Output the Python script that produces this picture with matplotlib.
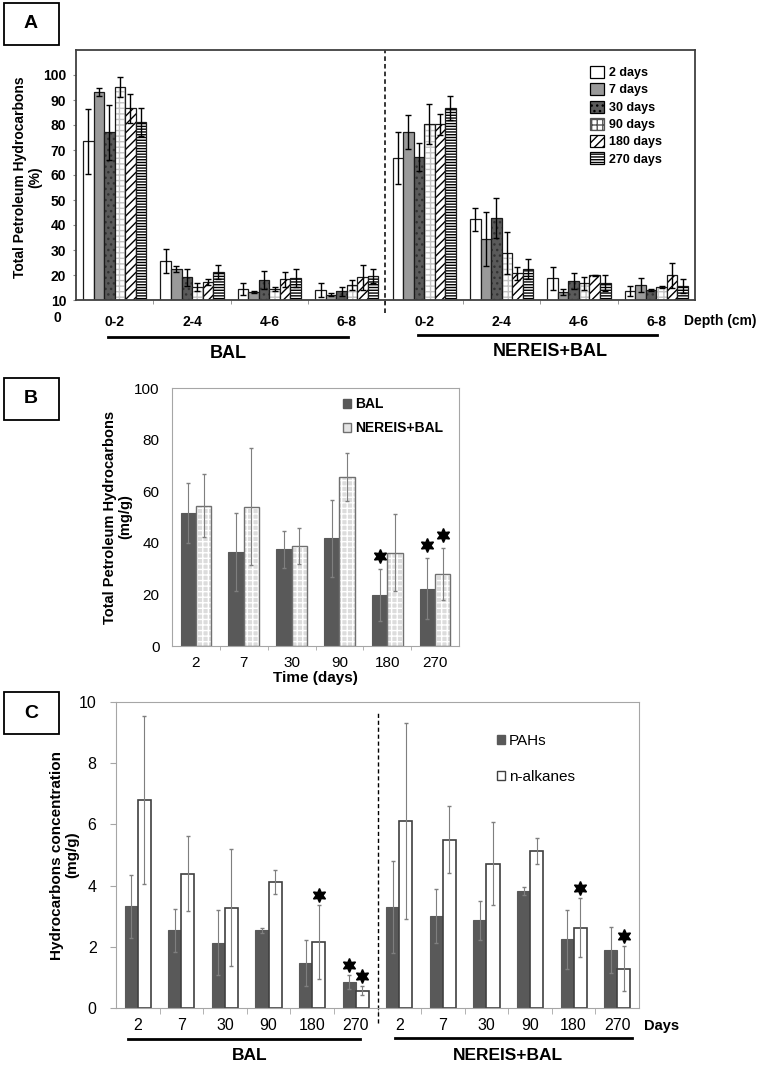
import matplotlib.pyplot as plt
from matplotlib.patches import Patch, Rectangle
from matplotlib.lines import Line2D
from matplotlib.transforms import blended_transform_factory
import numpy as np

plt.rcParams['font.family'] = ['Liberation Sans', 'DejaVu Sans']
plt.rcParams['hatch.linewidth'] = 1.0

# ---------- données ----------
# Panel A : TPH (%) par profondeur, BAL puis NEREIS+BAL
profondeurs = ["0-2", "2-4", "4-6", "6-8"]
jours_a = ["2 days", "7 days", "30 days", "90 days", "180 days", "270 days"]
tph_pct = [
    [73.6, 25.6, 14.5, 14.0, 66.7, 42.3, 18.7, 13.7],
    [93.3, 22.5, 13.2, 12.1, 77.2, 34.4, 13.3, 16.0],
    [77.2, 19.1, 18.0, 13.5, 67.1, 42.8, 17.6, 14.0],
    [95.1, 15.3, 14.5, 16.0, 80.3, 28.9, 16.7, 15.3],
    [86.7, 17.2, 18.3, 19.1, 80.3, 20.7, 19.9, 19.9],
    [81.1, 21.1, 18.8, 19.6, 86.7, 22.5, 16.7, 15.6],
]
tph_pct_err = [
    [13.0, 4.7, 2.4, 2.9, 10.4, 4.5, 4.7, 1.9],
    [1.7, 1.3, 0.5, 0.6, 6.8, 10.9, 1.3, 2.9],
    [11.0, 3.4, 3.7, 1.8, 5.6, 8.0, 3.3, 0.5],
    [3.9, 1.6, 0.8, 2.0, 8.0, 8.3, 2.7, 0.4],
    [5.7, 1.3, 2.9, 4.9, 4.3, 2.7, 0.3, 5.0],
    [5.6, 2.8, 3.7, 2.9, 4.7, 4.0, 3.2, 2.7],
]

# Panel B : TPH (mg/g) dans le temps
temps = ["2", "7", "30", "90", "180", "270"]
tph_bal = [51.4, 36.3, 37.5, 41.7, 19.9, 22.2]
tph_bal_err = [11.6, 15.1, 7.1, 14.9, 10.1, 11.8]
tph_ner = [54.4, 54.0, 38.8, 65.4, 36.2, 28.0]
tph_ner_err = [12.3, 22.6, 7.1, 9.3, 15.0, 10.0]
etoiles_b = [(4, "bal"), (5, "bal"), (5, "ner")]

# Panel C : HAP et n-alcanes, BAL puis NEREIS+BAL
pah = [3.33, 2.54, 2.13, 2.54, 1.48, 0.85, 3.30, 3.01, 2.86, 3.82, 2.24, 1.90]
pah_err = [1.03, 0.70, 1.06, 0.08, 0.75, 0.24, 1.50, 0.88, 0.65, 0.13, 0.97, 0.74]
alc = [6.79, 4.39, 3.28, 4.12, 2.16, 0.56, 6.12, 5.50, 4.72, 5.14, 2.63, 1.29]
alc_err = [2.75, 1.22, 1.90, 0.40, 1.20, 0.15, 3.20, 1.09, 1.36, 0.42, 0.97, 0.74]
etoiles_c = [(4, "alc"), (5, "pah"), (5, "alc"), (10, "alc"), (11, "alc")]

# ---------- styles ----------
styles_a = [
    dict(face="white", hatch=None, hc="white"),
    dict(face="#9a9a9a", hatch=None, hc="#9a9a9a"),
    dict(face="#5a5a5a", hatch="...", hc="#333333"),
    dict(face="white", hatch="+++", hc="#c4c4c4"),
    dict(face="white", hatch="////", hc="black"),
    dict(face="white", hatch="------", hc="black"),
]
gris_fonce = "#595959"
gris_cadre = "#a6a6a6"
gris_err = "#7f7f7f"

W, H = 764, 1065
fig = plt.figure(figsize=(W / 100, H / 100), dpi=100)


def axes_px(x0, y0, x1, y1):
    return fig.add_axes([x0 / W, 1 - y1 / H, (x1 - x0) / W, (y1 - y0) / H])


def texte_px(x, y, s, **kw):
    fig.text(x / W, 1 - y / H, s, **kw)


def ligne_px(x0, x1, y, lw=2):
    fig.add_artist(Line2D([x0 / W, x1 / W], [1 - y / H, 1 - y / H], color="black", lw=lw))


def boite_lettre(y0, lettre):
    fig.add_artist(Rectangle((4 / W, 1 - (y0 + 42) / H), 55 / W, 42 / H,
                             transform=fig.transFigure, fill=False, lw=1.3, ec="black"))
    texte_px(31, y0 + 21, lettre, ha="center", va="center", fontsize=14, fontweight="bold")


# ---------- Panel A ----------
axA = axes_px(76, 50, 695, 300)
xa = np.arange(len(tph_pct[0]))
larg_a = 0.136
for i, jour in enumerate(jours_a):
    st = styles_a[i]
    pos = xa + (i - 2.5) * larg_a
    axA.bar(pos, tph_pct[i], width=larg_a, color=st["face"], edgecolor=st["hc"],
            hatch=st["hatch"], linewidth=0)
    axA.bar(pos, tph_pct[i], width=larg_a, fill=False, edgecolor="#1a1a1a", linewidth=0.9)
    axA.errorbar(pos, tph_pct[i], yerr=tph_pct_err[i], fmt="none", ecolor="black",
                 elinewidth=1, capsize=2, capthick=1)

axA.set_xlim(-0.5, 7.5)
axA.set_ylim(10, 110)
axA.set_yticks(range(10, 101, 10))
axA.set_xticks(xa)
axA.set_xticklabels(profondeurs * 2)
axA.set_xticks(np.arange(0.5, 7, 1), minor=True)
axA.tick_params(axis="x", which="major", length=0, pad=11, labelsize=10)
axA.tick_params(axis="x", which="minor", length=3, color="#888888")
axA.tick_params(axis="y", length=2, pad=5, labelsize=10, color="#888888")
for lab in axA.get_xticklabels() + axA.get_yticklabels():
    lab.set_fontweight("bold")
for sp in axA.spines.values():
    sp.set_color("#404040")
    sp.set_linewidth(1.3)

trA = blended_transform_factory(axA.transData, axA.transAxes)
axA.plot([3.5, 3.5], [-0.052, 1.0], transform=trA, clip_on=False, color="black",
         ls=(0, (3, 2)), lw=1.1)

poignees = [Patch(facecolor=st["face"], edgecolor="black", hatch=st["hatch"], lw=0.9)
            for st in styles_a]
poignees[3] = Patch(facecolor="white", edgecolor="#555555", hatch="+++", lw=0.9)
fig.legend(poignees, jours_a, loc="upper left", bbox_to_anchor=(590 / W, 1 - 66 / H),
           frameon=False, prop={"weight": "bold", "size": 9}, handlelength=1.1,
           handleheight=1.1, labelspacing=0.32, handletextpad=0.4, borderpad=0,
           borderaxespad=0)

texte_px(28, 177, "Total Petroleum Hydrocarbons\n(%)", rotation=90, ha="center",
         va="center", fontsize=10, fontweight="bold", linespacing=1.1)
texte_px(57, 318, "0", ha="center", va="center", fontsize=10, fontweight="bold")
texte_px(720, 321, "Depth (cm)", ha="center", va="center", fontsize=10, fontweight="bold")
ligne_px(108, 348, 337)
ligne_px(418, 657, 335)
texte_px(228, 353, "BAL", ha="center", va="center", fontsize=13, fontweight="bold")
texte_px(550, 351, "NEREIS+BAL", ha="center", va="center", fontsize=13, fontweight="bold")
boite_lettre(3, "A")

# ---------- Panel B ----------
axB = axes_px(172, 388, 459, 646)
xb = np.arange(len(temps))
larg_b = 0.32
axB.bar(xb - larg_b / 2, tph_bal, width=larg_b, color=gris_fonce,
        edgecolor=gris_fonce, linewidth=0.8)
axB.bar(xb + larg_b / 2, tph_ner, width=larg_b, color="#dcdcdc", edgecolor="white",
        hatch="+++", linewidth=0)
axB.bar(xb + larg_b / 2, tph_ner, width=larg_b, fill=False, edgecolor="#707070", linewidth=1)
axB.errorbar(xb - larg_b / 2, tph_bal, yerr=tph_bal_err, fmt="none", ecolor=gris_err,
             elinewidth=0.8, capsize=1.5)
axB.errorbar(xb + larg_b / 2, tph_ner, yerr=tph_ner_err, fmt="none", ecolor=gris_err,
             elinewidth=0.8, capsize=1.5)
for k, serie in etoiles_b:
    if serie == "bal":
        axB.plot(k - larg_b / 2, tph_bal[k] + tph_bal_err[k] + 5, marker=(6, 1, 0),
                 ms=10, color="black", ls="none")
    else:
        axB.plot(k + larg_b / 2, tph_ner[k] + tph_ner_err[k] + 5, marker=(6, 1, 0),
                 ms=10, color="black", ls="none")

axB.set_xlim(-0.5, 5.5)
axB.set_ylim(0, 100)
axB.set_yticks(range(0, 101, 20))
axB.set_xticks(xb)
axB.set_xticklabels(temps)
axB.set_xticks(np.arange(0.5, 5, 1), minor=True)
axB.tick_params(axis="x", which="major", length=0, pad=7, labelsize=11)
axB.tick_params(axis="x", which="minor", length=3, color=gris_cadre)
axB.tick_params(axis="y", length=0, pad=9, labelsize=11)
for sp in axB.spines.values():
    sp.set_color(gris_cadre)
axB.set_xlabel("Time (days)", fontsize=11, fontweight="bold", labelpad=1)
poignees_b = [Patch(facecolor=gris_fonce, edgecolor=gris_fonce),
              Patch(facecolor="#e4e4e4", edgecolor="#707070")]
axB.legend(poignees_b, ["BAL", "NEREIS+BAL"], loc="upper left",
           bbox_to_anchor=((343 - 172) / 287, (646 - 397) / 258), frameon=False,
           prop={"weight": "bold", "size": 10}, handlelength=0.6, handleheight=0.6,
           handletextpad=0.25, labelspacing=0.75, borderpad=0, borderaxespad=0)
texte_px(118, 517, "Total Petroleum Hydrocarbons\n(mg/g)", rotation=90, ha="center",
         va="center", fontsize=10.5, fontweight="bold", linespacing=1.1)
boite_lettre(378, "B")

# ---------- Panel C ----------
axC = axes_px(116, 702, 639, 1008)
xc = np.arange(len(pah))
larg_c = 0.30
axC.bar(xc - larg_c / 2, pah, width=larg_c, color=gris_fonce, edgecolor=gris_fonce,
        linewidth=0.8)
axC.bar(xc + larg_c / 2, alc, width=larg_c, color="white", edgecolor="#404040", linewidth=1.2)
axC.errorbar(xc - larg_c / 2, pah, yerr=pah_err, fmt="none", ecolor=gris_err,
             elinewidth=0.8, capsize=1.5)
axC.errorbar(xc + larg_c / 2, alc, yerr=alc_err, fmt="none", ecolor=gris_err,
             elinewidth=0.8, capsize=1.5)
for k, serie in etoiles_c:
    if serie == "pah":
        axC.plot(k - larg_c / 2, pah[k] + pah_err[k] + 0.32, marker=(6, 1, 0),
                 ms=10, color="black", ls="none")
    else:
        axC.plot(k + larg_c / 2, alc[k] + alc_err[k] + 0.33, marker=(6, 1, 0),
                 ms=10, color="black", ls="none")

axC.set_xlim(-0.5, 11.5)
axC.set_ylim(0, 10)
axC.set_yticks(range(0, 11, 2))
axC.set_xticks(xc)
axC.set_xticklabels(temps * 2)
axC.set_xticks(np.arange(0.5, 11, 1), minor=True)
axC.tick_params(axis="x", which="major", length=0, pad=7, labelsize=11.5)
axC.tick_params(axis="x", which="minor", length=4, color=gris_cadre)
axC.tick_params(axis="y", length=4, pad=10, labelsize=11.5, color=gris_cadre)
for sp in axC.spines.values():
    sp.set_color(gris_cadre)

trC = blended_transform_factory(axC.transData, axC.transAxes)
axC.plot([5.5, 5.5], [-0.049, 0.967], transform=trC, clip_on=False, color="black",
         ls=(0, (3, 2)), lw=1)

poignees_c = [Patch(facecolor=gris_fonce, edgecolor=gris_fonce),
              Patch(facecolor="white", edgecolor="#404040")]
axC.legend(poignees_c, ["PAHs", "n-alkanes"], loc="upper left",
           bbox_to_anchor=((497 - 116) / 523, (1008 - 734) / 306), frameon=False,
           prop={"size": 11}, handlelength=0.55, handleheight=0.55, handletextpad=0.25,
           labelspacing=1.45, borderpad=0, borderaxespad=0)
texte_px(65, 855, "Hydrocarbons concentration\n(mg/g)", rotation=90, ha="center",
         va="center", fontsize=11, fontweight="bold", linespacing=1.1)
texte_px(662, 1026, "Days", ha="center", va="center", fontsize=10.5, fontweight="bold")
ligne_px(128, 360, 1039)
ligne_px(395, 632, 1038)
texte_px(250, 1055, "BAL", ha="center", va="center", fontsize=12.5, fontweight="bold")
texte_px(508, 1055, "NEREIS+BAL", ha="center", va="center", fontsize=12.5,
         fontweight="bold")
boite_lettre(692, "C")

fig.savefig("out.png", dpi=100)
